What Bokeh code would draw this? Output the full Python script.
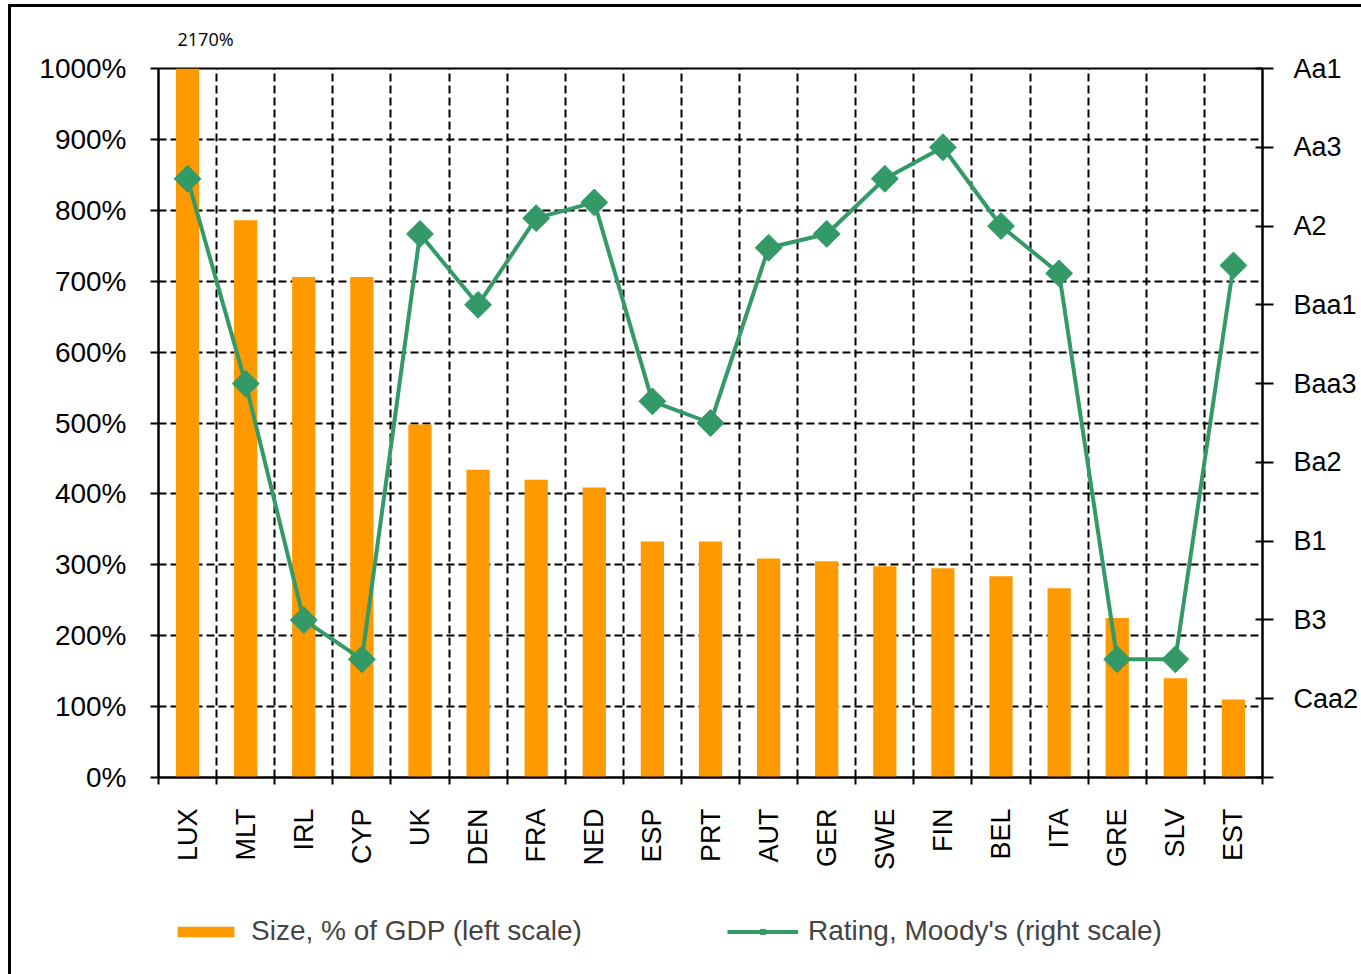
import math
from bokeh.plotting import figure
from bokeh.layouts import column
from bokeh.models import (FactorRange, Range1d, LinearAxis, CategoricalAxis, FixedTicker,
                          Legend, LegendItem, Title, ColumnDataSource, Grid)
from bokeh.embed import file_html
from bokeh.resources import INLINE

# ---------------- data ----------------
countries = ["LUX", "MLT", "IRL", "CYP", "UK", "DEN", "FRA", "NED", "ESP", "PRT",
             "AUT", "GER", "SWE", "FIN", "BEL", "ITA", "GRE", "SLV", "EST"]
size_pct = [2170, 786, 706, 706, 498, 434, 420, 409, 333, 333,
            309, 305, 298, 295, 284, 267, 225, 140, 110]
# Moody's rating on a notch scale (0 = Ca ... 18 = Aa1)
rating_notch = [15.2, 10.0, 4.0, 3.0, 13.8, 12.0, 14.2, 14.6, 9.55, 9.0,
                13.45, 13.8, 15.2, 16.0, 14.0, 12.8, 3.0, 3.0, 13.0]
rating_scale = ["Ca", "Caa3", "Caa2", "Caa1", "B3", "B2", "B1", "Ba3", "Ba2", "Ba1",
                "Baa3", "Baa2", "Baa1", "A3", "A2", "A1", "Aa3", "Aa2", "Aa1"]
size_ticks = [0, 100, 200, 300, 400, 500, 600, 700, 800, 900, 1000]
rating_ticks = [0, 2, 4, 6, 8, 10, 12, 14, 16, 18]
series_names = ["Size, % of GDP (left scale)", "Rating, Moody's (right scale)"]

BAR = "#FF9900"
GREEN = "#339966"
FONT = "Liberation Sans"

src = ColumnDataSource(dict(country=countries, size=size_pct, rating=rating_notch))

# ---------------- main chart ----------------
p = figure(x_range=FactorRange(*countries), y_range=Range1d(size_ticks[0], size_ticks[-1]),
           width=1350, height=873, output_backend="svg", toolbar_location=None,
           x_axis_location=None, y_axis_location=None,
           min_border_left=147, min_border_right=96, min_border_top=58, min_border_bottom=103)
p.outline_line_color = "black"
p.outline_line_width = 2
p.background_fill_color = "white"
p.border_fill_color = "white"
p.xgrid.visible = False
p.ygrid.visible = False

p.extra_y_ranges = {"rating": Range1d(0, len(rating_scale) - 1)}

# grids
p.add_layout(Grid(dimension=1, ticker=FixedTicker(ticks=size_ticks[1:-1]),
                  grid_line_color="black", grid_line_dash="8 4", grid_line_width=2))
p.add_layout(Grid(dimension=0, ticker=FixedTicker(ticks=list(range(1, len(countries)))),
                  grid_line_color="black", grid_line_dash="8 4", grid_line_width=2))

# left axis
yaxis = LinearAxis(ticker=FixedTicker(ticks=size_ticks),
                   major_label_overrides={t: f"{t}%" for t in size_ticks},
                   major_tick_in=0, major_tick_out=8, major_tick_line_width=2,
                   minor_tick_line_color=None, axis_line_width=2,
                   major_label_standoff=24,
                   major_label_text_font=FONT, major_label_text_font_size="28px",
                   major_label_text_color="black")
p.add_layout(yaxis, "left")

# right axis (rating)
raxis = LinearAxis(y_range_name="rating", ticker=FixedTicker(ticks=rating_ticks),
                   major_label_overrides={t: (rating_scale[t] if t > 0 else "") for t in rating_ticks},
                   major_tick_in=7, major_tick_out=11, major_tick_line_width=2,
                   minor_tick_line_color=None, axis_line_width=2,
                   major_label_standoff=20,
                   major_label_text_font=FONT, major_label_text_font_size="27px",
                   major_label_text_color="black")
p.add_layout(raxis, "right")

# bottom: boundary ticks axis + category labels
tick_axis = LinearAxis(ticker=FixedTicker(ticks=list(range(len(countries) + 1))),
                       major_label_overrides={i: "" for i in range(len(countries) + 1)},
                       major_label_text_font_size="1px", major_label_standoff=0,
                       major_tick_in=0, major_tick_out=7, major_tick_line_width=2,
                       minor_tick_line_color=None, axis_line_width=2)
p.add_layout(tick_axis, "below")
cat_axis = CategoricalAxis(axis_line_color=None, major_tick_line_color=None,
                           minor_tick_line_color=None,
                           major_label_orientation=math.pi / 2, major_label_standoff=18,
                           major_label_text_font=FONT, major_label_text_font_size="27px",
                           major_label_text_color="black")
p.add_layout(cat_axis, "below")

# glyphs
bars = p.vbar(x="country", top="size", width=0.4, source=src, fill_color=BAR, line_color=None)
line = p.line(x="country", y="rating", source=src, y_range_name="rating",
              line_color=GREEN, line_width=4)
pts = p.scatter(x="country", y="rating", source=src, y_range_name="rating",
                marker="square", angle=math.pi / 4, size=19,
                fill_color=GREEN, line_color=GREEN)

# value of the clipped first bar, written above the plot area
p.add_layout(Title(text=f"{size_pct[0]}%", align="left", offset=19, standoff=35,
                   text_font="Open Sans", text_font_size="18px", text_font_style="normal",
                   text_color="black"), "above")

# ---------------- legend strip ----------------
# same series, drawn in a strip whose y-range lies far above the data, so only the legend shows
leg = figure(x_range=FactorRange(*countries), y_range=Range1d(1e6, 1e6 + 1),
             width=1350, height=94, output_backend="svg", toolbar_location=None,
             x_axis_location=None, y_axis_location=None,
             min_border=0, min_border_left=0, min_border_right=0,
             min_border_top=0, min_border_bottom=0)
leg.outline_line_color = None
leg.xgrid.visible = False
leg.ygrid.visible = False
lbars = leg.vbar(x="country", top="size", width=0.4, source=src, fill_color=BAR, line_color=None)
lline = leg.line(x="country", y="rating", source=src, line_color=GREEN, line_width=4)
lpts = leg.scatter(x="country", y="rating", source=src, marker="square", angle=math.pi / 4,
                   size=19, fill_color=GREEN, line_color=GREEN)

legend = Legend(items=[LegendItem(label=series_names[0], renderers=[lbars]),
                       LegendItem(label=series_names[1], renderers=[lline, lpts])],
                orientation="horizontal", location=(12, 27), margin=0, padding=0,
                spacing=145, glyph_width=71, glyph_height=13, label_standoff=10,
                label_text_font=FONT, label_text_font_size="28px",
                border_line_color=None, background_fill_alpha=0)
leg.add_layout(legend, "center")

layout = column(p, leg, spacing=0)
layout.styles = {"margin-left": "8px", "margin-top": "4px",
                 "border-left": "3px solid black", "border-top": "3px solid black"}

open("out.html", "w").write(file_html(layout, INLINE))
